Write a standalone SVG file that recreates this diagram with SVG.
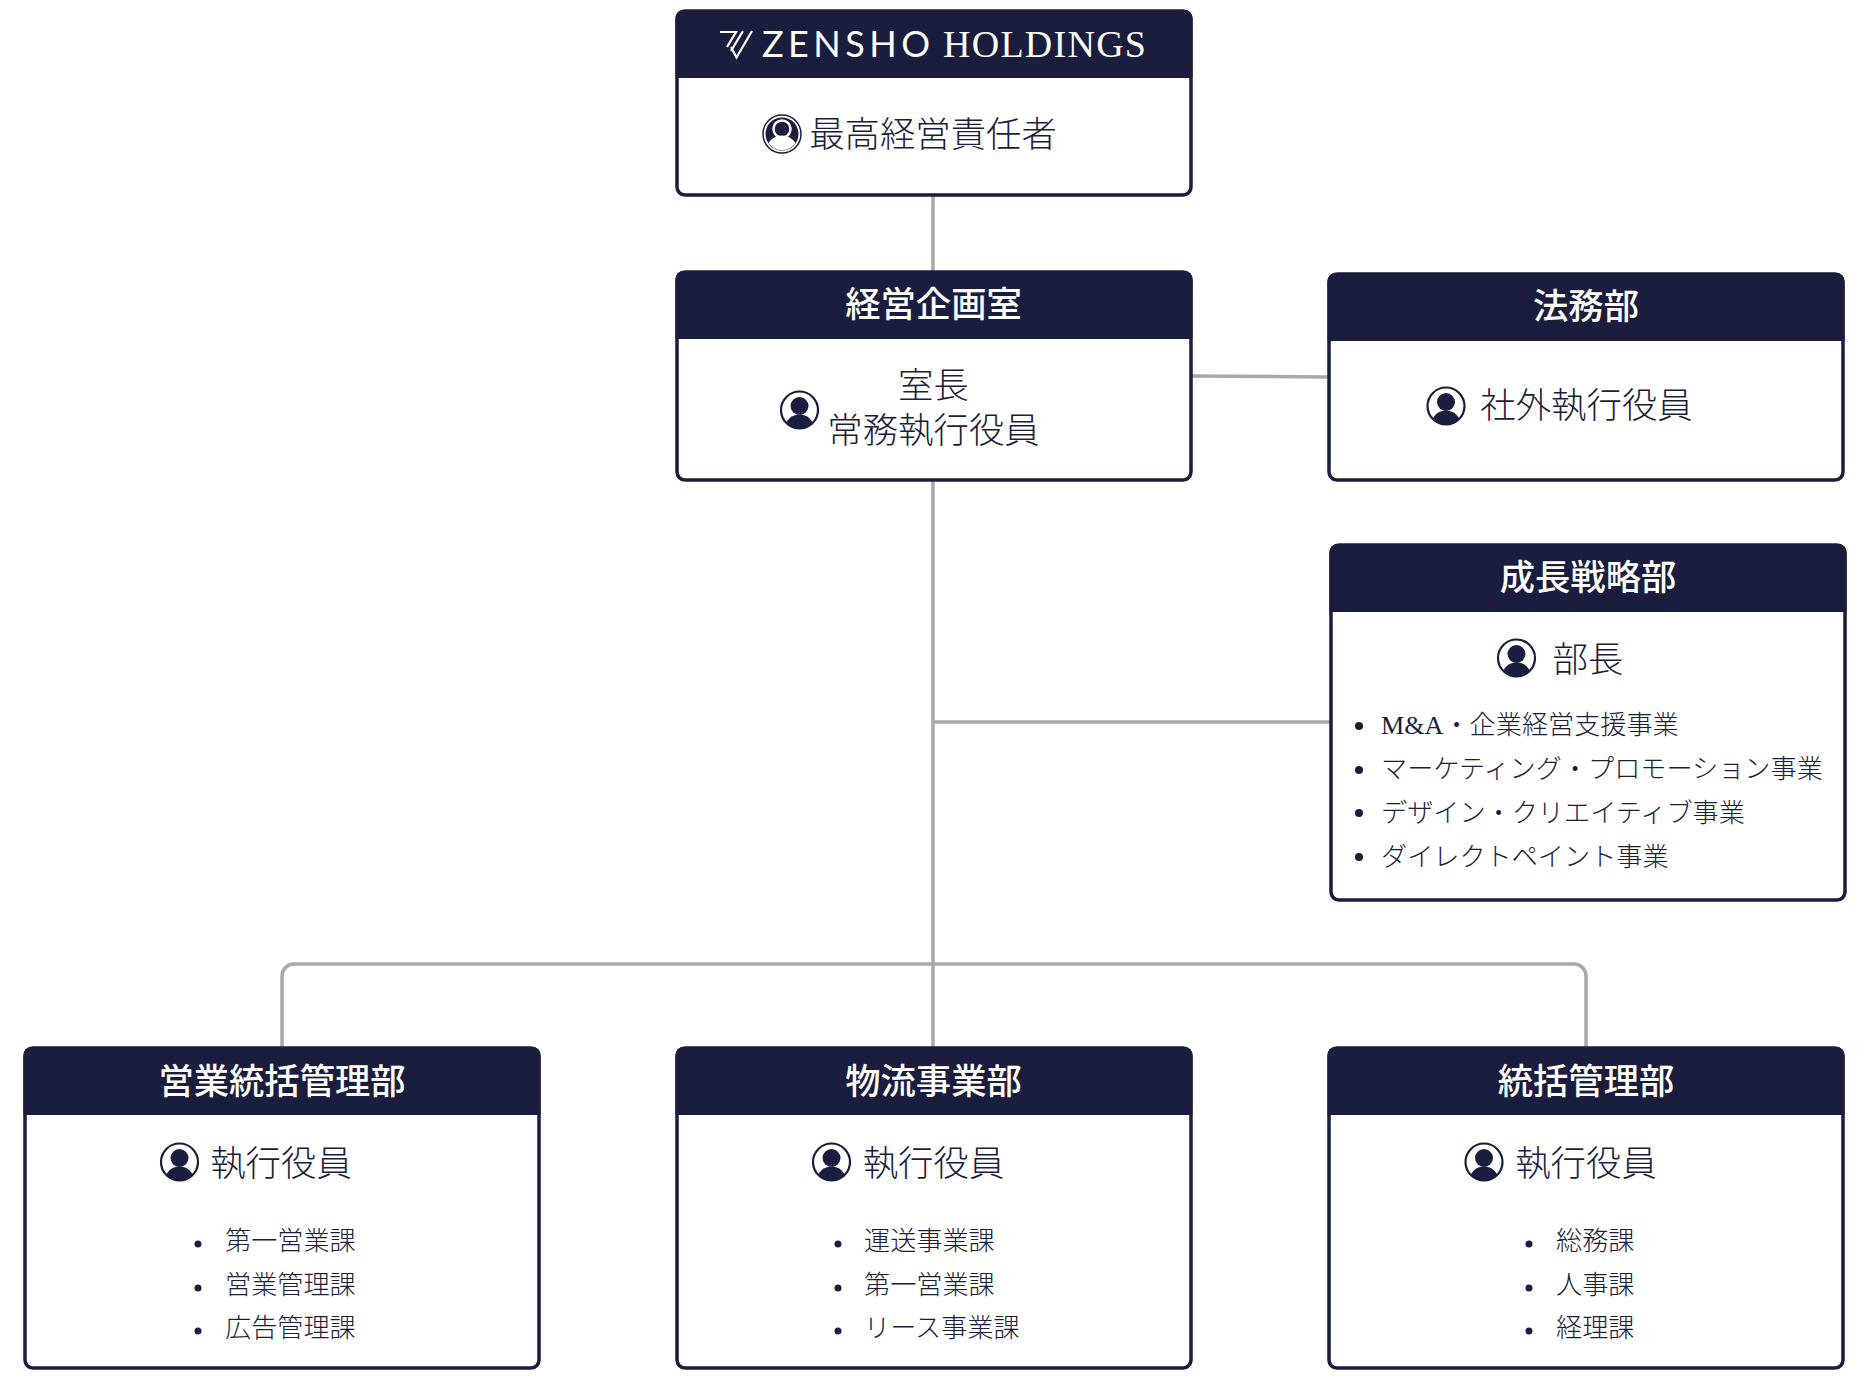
<svg xmlns="http://www.w3.org/2000/svg" width="1864" height="1381" viewBox="0 0 1864 1381">
<style>
text{font-family:"Liberation Serif","Noto Sans CJK JP",serif;fill:#1a1d3d}
.box{fill:#fff;stroke:#1a1d3d;stroke-width:3.5}
.hd{fill:#1a1d3d}
.t{font-size:35.300px;font-weight:500;fill:#fff;text-anchor:middle}
.b{font-size:35.400px;font-weight:300;text-anchor:middle}
.l{font-size:26.150px;font-weight:300}
.dot{fill:#1a1d3d}
.c{fill:none;stroke:#a9a9a9;stroke-width:3.5}
.lg{fill:none;stroke:#fff;stroke-width:2.2}
</style>
<defs>
<clipPath id="ic"><circle cx="0" cy="0" r="19"/></clipPath>
<g id="person">
<circle r="18.500" fill="#fff" stroke="#1a1d3d" stroke-width="2.200"/>
<circle cy="-4" r="9" fill="#1a1d3d"/>
<ellipse cy="17" rx="14" ry="12.500" fill="#1a1d3d" clip-path="url(#ic)"/>
</g>
<path id="hdr" d="M0 68V8a8 8 0 0 1 8-8H509a8 8 0 0 1 8 8V68Z"/>
</defs>
<g id="connectors" class="c">
<path d="M933 195V272"/>
<path d="M933 481V1048"/>
<path d="M1191 376L1328 377"/>
<path d="M933 722H1330"/>
<path d="M282 1048V976a12 12 0 0 1 12-12H1574a12 12 0 0 1 12 12V1048"/>
</g>
<g id="node-ceo">
<rect class="box" x="677" y="11" width="514" height="184" rx="8"/>
<use href="#hdr" class="hd" x="675.500" y="10"/>
<path class="lg" d="M720 32H736L727 47M743 31L731 51M731 47L736.500 57.500L752 31"/>
<text x="762" y="57" font-size="36" textLength="168" lengthAdjust="spacing" style="fill:#fff;font-family:Lato,sans-serif">ZENSHO</text>
<text x="943" y="57" font-size="38" textLength="203" lengthAdjust="spacing" style="fill:#fff">HOLDINGS</text>
<circle cx="782" cy="134" r="19" fill="none" stroke="#1a1d3d" stroke-width="1.500"/>
<circle cx="782" cy="134" r="16.500" fill="#1a1d3d"/>
<circle cx="782" cy="129" r="8.500" fill="#1a1d3d" stroke="#fff" stroke-width="2.500"/>
<path d="M768.500 143a16 16 0 0 1 27 0a16.500 16.500 0 0 1-27 0Z" fill="#fff"/>
<text class="b" x="933" y="147">最高経営責任者</text>
</g>
<g id="node-planning">
<rect class="box" x="677" y="272" width="514" height="208" rx="8"/>
<use href="#hdr" class="hd" x="675.500" y="271"/>
<text class="t" x="933.500" y="317">経営企画室</text>
<use href="#person" x="799.500" y="410"/>
<text class="b" x="933.500" y="398">室長</text>
<text class="b" x="933.500" y="443">常務執行役員</text>
</g>
<g id="node-legal">
<rect class="box" x="1329" y="274" width="514" height="206" rx="8"/>
<use href="#hdr" class="hd" x="1327.500" y="273"/>
<text class="t" x="1586" y="319">法務部</text>
<use href="#person" x="1446" y="406"/>
<text class="b" x="1586.500" y="418">社外執行役員</text>
</g>
<g id="node-growth">
<rect class="box" x="1331" y="545" width="514" height="355" rx="8"/>
<use href="#hdr" class="hd" x="1329.500" y="544"/>
<text class="t" x="1588" y="590">成長戦略部</text>
<use href="#person" x="1516.500" y="658"/>
<text class="b" x="1588" y="672">部長</text>
<circle class="dot" cx="1359" cy="726" r="4"/><text class="l" x="1381" y="734">M&amp;A・企業経営支援事業</text>
<circle class="dot" cx="1359" cy="770" r="4"/><text class="l" x="1381" y="778">マーケティング・プロモーション事業</text>
<circle class="dot" cx="1359" cy="813" r="4"/><text class="l" x="1381" y="822">デザイン・クリエイティブ事業</text>
<circle class="dot" cx="1359" cy="857" r="4"/><text class="l" x="1381" y="866">ダイレクトペイント事業</text>
</g>
<g id="node-sales">
<rect class="box" x="25" y="1048" width="514" height="320" rx="8"/>
<use href="#hdr" class="hd" x="23.500" y="1047"/>
<text class="t" x="282" y="1094">営業統括管理部</text>
<use href="#person" x="179.500" y="1162"/>
<text class="b" x="281" y="1176">執行役員</text>
<circle class="dot" cx="198" cy="1244" r="3.500"/><text class="l" x="225" y="1250">第一営業課</text>
<circle class="dot" cx="198" cy="1288" r="3.500"/><text class="l" x="225" y="1294">営業管理課</text>
<circle class="dot" cx="198" cy="1331" r="3.500"/><text class="l" x="225" y="1337">広告管理課</text>
</g>
<g id="node-logistics">
<rect class="box" x="677" y="1048" width="514" height="320" rx="8"/>
<use href="#hdr" class="hd" x="675.500" y="1047"/>
<text class="t" x="933.500" y="1094">物流事業部</text>
<use href="#person" x="831.500" y="1162"/>
<text class="b" x="933.500" y="1176">執行役員</text>
<circle class="dot" cx="838" cy="1244" r="3.500"/><text class="l" x="864" y="1250">運送事業課</text>
<circle class="dot" cx="838" cy="1288" r="3.500"/><text class="l" x="864" y="1294">第一営業課</text>
<circle class="dot" cx="838" cy="1331" r="3.500"/><text class="l" x="864" y="1337">リース事業課</text>
</g>
<g id="node-admin">
<rect class="box" x="1329" y="1048" width="514" height="320" rx="8"/>
<use href="#hdr" class="hd" x="1327.500" y="1047"/>
<text class="t" x="1586" y="1094">統括管理部</text>
<use href="#person" x="1484" y="1162"/>
<text class="b" x="1586" y="1176">執行役員</text>
<circle class="dot" cx="1529" cy="1244" r="3.500"/><text class="l" x="1556" y="1250">総務課</text>
<circle class="dot" cx="1529" cy="1288" r="3.500"/><text class="l" x="1556" y="1294">人事課</text>
<circle class="dot" cx="1529" cy="1331" r="3.500"/><text class="l" x="1556" y="1337">経理課</text>
</g>
</svg>
